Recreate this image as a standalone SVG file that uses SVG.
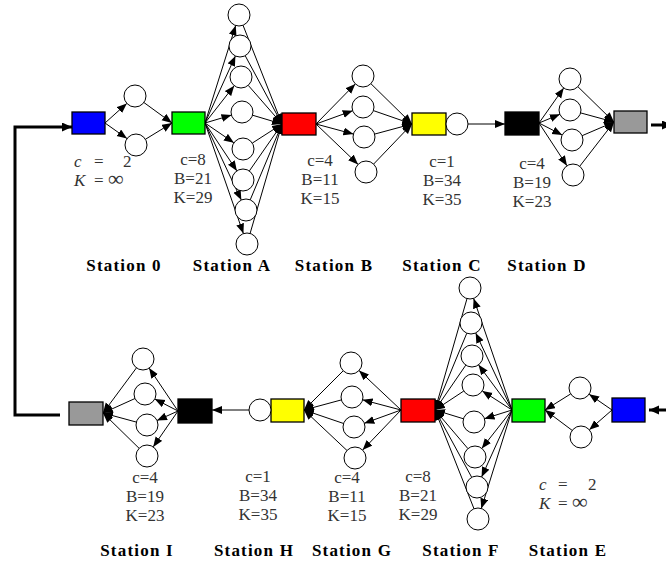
<svg xmlns="http://www.w3.org/2000/svg" width="666" height="562" viewBox="0 0 666 562">
<defs>
<marker id="ah" markerUnits="userSpaceOnUse" markerWidth="11" markerHeight="9" refX="10" refY="4" orient="auto"><path d="M0,0 L10,4 L0,8 z" fill="#000"/></marker>
<marker id="ahb" markerUnits="userSpaceOnUse" markerWidth="12" markerHeight="10" refX="10" refY="4.5" orient="auto"><path d="M0,0 L10,4.5 L0,9 z" fill="#000"/></marker>
<style>
.q{stroke:#000;stroke-width:1.3}
.srv{fill:#fff;stroke:#000;stroke-width:1}
.c line,.c polyline{stroke:#000;stroke-width:1;fill:none}
.c line{marker-end:url(#ah)}
.c .thick{stroke-width:3;marker-end:url(#ahb)}
.p{font-family:"Liberation Serif","Times New Roman",serif;font-size:17px;fill:#333;text-anchor:middle}
.pi{font-family:"Liberation Serif","Times New Roman",serif;font-size:17px;fill:#333}
.it{font-style:italic}
.inf{font-size:22px}
.lbl{font-family:"Liberation Serif","Times New Roman",serif;font-size:17px;font-weight:bold;letter-spacing:1.2px;fill:#000;text-anchor:middle}
</style>
</defs>

<g id="connectors" class="c">
<polyline class="thick" points="60,415 15,415 15,127 72,127"/>
<line class="thick" x1="651" y1="125" x2="672" y2="125"/>
<line class="thick" x1="672" y1="410" x2="649" y2="410"/>
<line x1="105" y1="123" x2="126.8" y2="103.4"/>
<line x1="105" y1="123" x2="127" y2="138.6"/>
<line x1="143.9" y1="102.5" x2="172" y2="123"/>
<line x1="145.4" y1="139.3" x2="172" y2="123"/>
<line x1="205" y1="123" x2="235.7" y2="25.5"/>
<line x1="205" y1="123" x2="235.4" y2="56"/>
<line x1="205" y1="123" x2="234.2" y2="85.7"/>
<line x1="205" y1="123" x2="231.5" y2="115.1"/>
<line x1="205" y1="123" x2="233.9" y2="142.8"/>
<line x1="205" y1="123" x2="236.9" y2="170.9"/>
<line x1="205" y1="123" x2="241.3" y2="200"/>
<line x1="205" y1="123" x2="243.4" y2="233.6"/>
<line x1="243" y1="25.2" x2="282" y2="124"/>
<line x1="245.2" y1="55.7" x2="282" y2="124"/>
<line x1="248.2" y1="85.3" x2="282" y2="124"/>
<line x1="252.5" y1="115.2" x2="282" y2="124"/>
<line x1="252.3" y1="143.1" x2="282" y2="124"/>
<line x1="249.3" y1="171" x2="282" y2="124"/>
<line x1="250.2" y1="199.9" x2="282" y2="124"/>
<line x1="250.1" y1="233.4" x2="282" y2="124"/>
<line x1="316" y1="124" x2="355.3" y2="83.9"/>
<line x1="316" y1="124" x2="352.7" y2="110.7"/>
<line x1="316" y1="124" x2="353.4" y2="134.1"/>
<line x1="316" y1="124" x2="358.1" y2="164.4"/>
<line x1="370.9" y1="83.7" x2="412" y2="124"/>
<line x1="373.4" y1="110.6" x2="412" y2="124"/>
<line x1="374.6" y1="134.1" x2="412" y2="124"/>
<line x1="373.6" y1="164.1" x2="412" y2="124"/>
<line x1="468" y1="124" x2="505" y2="124"/>
<line x1="539" y1="123" x2="563.7" y2="88"/>
<line x1="539" y1="123" x2="559.9" y2="114.3"/>
<line x1="539" y1="123" x2="562.2" y2="135"/>
<line x1="539" y1="123" x2="567" y2="165.8"/>
<line x1="577.9" y1="86.7" x2="614" y2="122"/>
<line x1="580.6" y1="112.9" x2="614" y2="122"/>
<line x1="582.1" y1="135.7" x2="614" y2="122"/>
<line x1="579.7" y1="166.3" x2="614" y2="122"/>
<line x1="612" y1="410" x2="589.1" y2="394.2"/>
<line x1="612" y1="410" x2="589.3" y2="429.8"/>
<line x1="570.7" y1="393.9" x2="545" y2="410"/>
<line x1="572.2" y1="430.4" x2="545" y2="410"/>
<line x1="512" y1="410" x2="473.6" y2="298.4"/>
<line x1="512" y1="410" x2="475.7" y2="333"/>
<line x1="512" y1="410" x2="478.5" y2="364.8"/>
<line x1="512" y1="410" x2="482.3" y2="390.9"/>
<line x1="512" y1="410" x2="484.5" y2="418.7"/>
<line x1="512" y1="410" x2="481.8" y2="448.4"/>
<line x1="512" y1="410" x2="481.6" y2="477"/>
<line x1="512" y1="410" x2="481.3" y2="508.5"/>
<line x1="467" y1="298.6" x2="435" y2="410"/>
<line x1="466.8" y1="333.2" x2="435" y2="410"/>
<line x1="465.8" y1="365.1" x2="435" y2="410"/>
<line x1="463.8" y1="391" x2="435" y2="410"/>
<line x1="463.5" y1="418.8" x2="435" y2="410"/>
<line x1="467.9" y1="448.6" x2="435" y2="410"/>
<line x1="471.7" y1="477.3" x2="435" y2="410"/>
<line x1="474" y1="508.8" x2="435" y2="410"/>
<line x1="401" y1="410" x2="359" y2="370.5"/>
<line x1="401" y1="410" x2="362.6" y2="399.8"/>
<line x1="401" y1="410" x2="364.3" y2="423.3"/>
<line x1="401" y1="410" x2="362.6" y2="450.1"/>
<line x1="343.2" y1="370.8" x2="304" y2="410"/>
<line x1="341.4" y1="399.9" x2="304" y2="410"/>
<line x1="343.6" y1="423.5" x2="304" y2="410"/>
<line x1="347" y1="450.5" x2="304" y2="410"/>
<line x1="249" y1="410" x2="212" y2="410"/>
<line x1="178" y1="411" x2="149.1" y2="368.1"/>
<line x1="178" y1="411" x2="154.8" y2="399"/>
<line x1="178" y1="411" x2="157" y2="420.5"/>
<line x1="178" y1="411" x2="153.2" y2="446.9"/>
<line x1="136.5" y1="367.8" x2="103" y2="413"/>
<line x1="135" y1="398.5" x2="103" y2="413"/>
<line x1="136.4" y1="422.1" x2="103" y2="413"/>
<line x1="139.1" y1="448.3" x2="103" y2="413"/>
</g>

<g id="station0-queue"><rect class="q" x="72" y="112" width="33" height="22" fill="#0000ff"/></g>
<g id="station0-server1"><circle class="srv" cx="135" cy="96" r="11"/></g>
<g id="station0-server2"><circle class="srv" cx="136" cy="145" r="11"/></g>
<g id="station0-text">
<text class="pi" y="167"><tspan class="it" x="74">c</tspan><tspan x="94">=</tspan><tspan x="123">2</tspan></text>
<text class="pi" y="186"><tspan class="it" x="74">K</tspan><tspan x="94">=</tspan><tspan class="inf" x="108">∞</tspan></text>
<text class="lbl" x="124" y="271">Station 0</text>
</g>

<g id="stationA-queue"><rect class="q" x="172" y="112" width="33" height="22" fill="#00ff00"/></g>
<g id="stationA-server1"><circle class="srv" cx="239" cy="15" r="11"/></g>
<g id="stationA-server2"><circle class="srv" cx="240" cy="46" r="11"/></g>
<g id="stationA-server3"><circle class="srv" cx="241" cy="77" r="11"/></g>
<g id="stationA-server4"><circle class="srv" cx="242" cy="112" r="11"/></g>
<g id="stationA-server5"><circle class="srv" cx="243" cy="149" r="11"/></g>
<g id="stationA-server6"><circle class="srv" cx="243" cy="180" r="11"/></g>
<g id="stationA-server7"><circle class="srv" cx="246" cy="210" r="11"/></g>
<g id="stationA-server8"><circle class="srv" cx="247" cy="244" r="11"/></g>
<g id="stationA-text">
<text class="p" x="193" y="165">c=8</text>
<text class="p" x="193" y="184">B=21</text>
<text class="p" x="193" y="203">K=29</text>
<text class="lbl" x="232" y="271">Station A</text>
</g>

<g id="stationB-queue"><rect class="q" x="282" y="113" width="34" height="22" fill="#ff0000"/></g>
<g id="stationB-server1"><circle class="srv" cx="363" cy="76" r="11"/></g>
<g id="stationB-server2"><circle class="srv" cx="363" cy="107" r="11"/></g>
<g id="stationB-server3"><circle class="srv" cx="364" cy="137" r="11"/></g>
<g id="stationB-server4"><circle class="srv" cx="366" cy="172" r="11"/></g>
<g id="stationB-text">
<text class="p" x="320" y="166">c=4</text>
<text class="p" x="320" y="185">B=11</text>
<text class="p" x="320" y="204">K=15</text>
<text class="lbl" x="334" y="271">Station B</text>
</g>

<g id="stationC-queue"><rect class="q" x="412" y="113" width="34" height="22" fill="#ffff00"/></g>
<g id="stationC-server1"><circle class="srv" cx="457" cy="124" r="11"/></g>
<g id="stationC-text">
<text class="p" x="442" y="167">c=1</text>
<text class="p" x="442" y="186">B=34</text>
<text class="p" x="442" y="205">K=35</text>
<text class="lbl" x="442" y="271">Station C</text>
</g>

<g id="stationD-queue"><rect class="q" x="505" y="112" width="34" height="23" fill="#000000"/></g>
<g id="stationD-server1"><circle class="srv" cx="570" cy="79" r="11"/></g>
<g id="stationD-server2"><circle class="srv" cx="570" cy="110" r="11"/></g>
<g id="stationD-server3"><circle class="srv" cx="572" cy="140" r="11"/></g>
<g id="stationD-server4"><circle class="srv" cx="573" cy="175" r="11"/></g>
<g id="stationD-out"><rect class="q" x="614" y="111" width="33" height="22" fill="#999999"/></g>
<g id="stationD-text">
<text class="p" x="532" y="169">c=4</text>
<text class="p" x="532" y="188">B=19</text>
<text class="p" x="532" y="207">K=23</text>
<text class="lbl" x="547" y="271">Station D</text>
</g>

<g id="stationE-queue"><rect class="q" x="612" y="398" width="33" height="24" fill="#0000ff"/></g>
<g id="stationE-server1"><circle class="srv" cx="580" cy="388" r="11"/></g>
<g id="stationE-server2"><circle class="srv" cx="581" cy="437" r="11"/></g>
<g id="stationE-text">
<text class="pi" y="490"><tspan class="it" x="539">c</tspan><tspan x="558">=</tspan><tspan x="588">2</tspan></text>
<text class="pi" y="509"><tspan class="it" x="539">K</tspan><tspan x="558">=</tspan><tspan class="inf" x="572">∞</tspan></text>
<text class="lbl" x="568" y="556">Station E</text>
</g>

<g id="stationF-queue"><rect class="q" x="512" y="399" width="33" height="23" fill="#00ff00"/></g>
<g id="stationF-server1"><circle class="srv" cx="470" cy="288" r="11"/></g>
<g id="stationF-server2"><circle class="srv" cx="471" cy="323" r="11"/></g>
<g id="stationF-server3"><circle class="srv" cx="472" cy="356" r="11"/></g>
<g id="stationF-server4"><circle class="srv" cx="473" cy="385" r="11"/></g>
<g id="stationF-server5"><circle class="srv" cx="474" cy="422" r="11"/></g>
<g id="stationF-server6"><circle class="srv" cx="475" cy="457" r="11"/></g>
<g id="stationF-server7"><circle class="srv" cx="477" cy="487" r="11"/></g>
<g id="stationF-server8"><circle class="srv" cx="478" cy="519" r="11"/></g>
<g id="stationF-text">
<text class="p" x="418" y="482">c=8</text>
<text class="p" x="418" y="501">B=21</text>
<text class="p" x="418" y="520">K=29</text>
<text class="lbl" x="461" y="556">Station F</text>
</g>

<g id="stationG-queue"><rect class="q" x="401" y="399" width="34" height="23" fill="#ff0000"/></g>
<g id="stationG-server1"><circle class="srv" cx="351" cy="363" r="11"/></g>
<g id="stationG-server2"><circle class="srv" cx="352" cy="397" r="11"/></g>
<g id="stationG-server3"><circle class="srv" cx="354" cy="427" r="11"/></g>
<g id="stationG-server4"><circle class="srv" cx="355" cy="458" r="11"/></g>
<g id="stationG-text">
<text class="p" x="347" y="483">c=4</text>
<text class="p" x="347" y="502">B=11</text>
<text class="p" x="347" y="521">K=15</text>
<text class="lbl" x="352" y="556">Station G</text>
</g>

<g id="stationH-queue"><rect class="q" x="271" y="399" width="33" height="23" fill="#ffff00"/></g>
<g id="stationH-server1"><circle class="srv" cx="260" cy="410" r="11"/></g>
<g id="stationH-text">
<text class="p" x="258" y="482">c=1</text>
<text class="p" x="258" y="501">B=34</text>
<text class="p" x="258" y="520">K=35</text>
<text class="lbl" x="254" y="556">Station H</text>
</g>

<g id="stationI-queue"><rect class="q" x="178" y="399" width="34" height="24" fill="#000000"/></g>
<g id="stationI-server1"><circle class="srv" cx="143" cy="359" r="11"/></g>
<g id="stationI-server2"><circle class="srv" cx="145" cy="394" r="11"/></g>
<g id="stationI-server3"><circle class="srv" cx="147" cy="425" r="11"/></g>
<g id="stationI-server4"><circle class="srv" cx="147" cy="456" r="11"/></g>
<g id="stationI-out"><rect class="q" x="69" y="402" width="34" height="23" fill="#999999"/></g>
<g id="stationI-text">
<text class="p" x="145" y="483">c=4</text>
<text class="p" x="145" y="502">B=19</text>
<text class="p" x="145" y="521">K=23</text>
<text class="lbl" x="137" y="556">Station I</text>
</g>
</svg>
